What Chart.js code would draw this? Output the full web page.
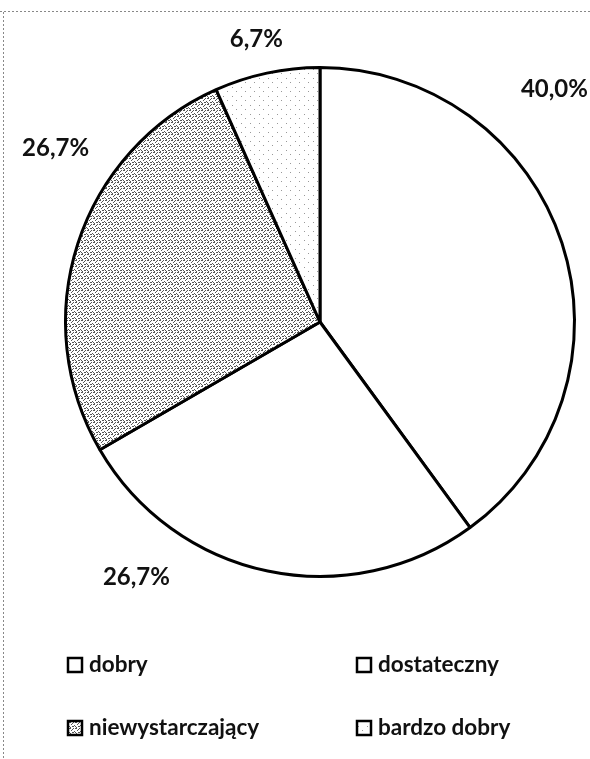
<!DOCTYPE html>
<html>
<head>
<meta charset="utf-8">
<script src="https://cdn.jsdelivr.net/npm/chart.js@4.4.0/dist/chart.umd.min.js"></script>
<style>
  body { margin: 0; background: #fff; }
  canvas { display: block; }
</style>
</head>
<body>
<canvas id="chart" width="590" height="759"></canvas>
<script>
// categories and their share (%)
var labels = ['dobry', 'dostateczny', 'niewystarczający', 'bardzo dobry'];
var values = [40.0, 26.7, 26.7, 6.7];

var canvas = document.getElementById('chart');
var ctx = canvas.getContext('2d');

// small dotted tiles, to look like the printed fills
function dotPattern(size, dots, dotColor) {
    var c = document.createElement('canvas');
    c.width = size; c.height = size;
    var g = c.getContext('2d');
    g.fillStyle = '#fff';
    g.fillRect(0, 0, size, size);
    g.fillStyle = dotColor;
    dots.forEach(function (p) { g.fillRect(p[0], p[1], 1, 1); });
    return ctx.createPattern(c, 'repeat');
}

var greyFill = dotPattern(6, [[0,0],[1,0],[3,0],[4,1],[1,2],[3,2],[4,2],[0,3],[5,4],[2,5]], '#555');
var lightFill = dotPattern(9, [[2,1],[7,6]], '#999');
var colors = ['#ffffff', '#ffffff', greyFill, lightFill];

// where the percent labels sit: angle from top (clockwise) and distance in radii
var labelPlace = [[45.2, 1.298], [215.7, 1.236], [303.3, 1.243], [347.3, 1.138]];

var pctLabels = {
    id: 'pctLabels',
    afterDatasetsDraw: function (chart) {
        var c = chart.ctx;
        var meta = chart.getDatasetMeta(0);
        c.save();
        c.font = 'bold 24px Lato';
        c.fillStyle = '#111';
        c.textAlign = 'center';
        c.textBaseline = 'middle';
        meta.data.forEach(function (arc, i) {
            var p = arc.getProps(['x', 'y', 'outerRadius']);
            var a = labelPlace[i][0] * Math.PI / 180;
            var r = p.outerRadius * labelPlace[i][1];
            var txt = chart.data.datasets[0].data[i].toFixed(1).replace('.', ',') + '%';
            c.fillText(txt, p.x + r * Math.sin(a), p.y - r * Math.cos(a));
        });
        c.restore();
    }
};

// two-column legend under the pie
var gridLegend = {
    id: 'gridLegend',
    afterDraw: function (chart) {
        var c = chart.ctx;
        var ds = chart.data.datasets[0];
        var cols = [68, 357], rows = [665, 728];
        c.save();
        c.font = 'bold 22.5px Lato';
        c.textBaseline = 'middle';
        chart.data.labels.forEach(function (lab, i) {
            var x = cols[i % 2], y = rows[Math.floor(i / 2)];
            c.fillStyle = ds.backgroundColor[i];
            c.fillRect(x, y - 7, 14, 14);
            c.lineWidth = 2.5;
            c.strokeStyle = '#000';
            c.strokeRect(x, y - 7, 14, 14);
            c.fillStyle = '#111';
            c.fillText(lab, x + 21, y);
        });
        c.restore();
    }
};

// faint dotted frame edge from the scan
var frame = {
    id: 'frame',
    beforeDraw: function (chart) {
        var c = chart.ctx;
        c.save();
        c.strokeStyle = '#888';
        c.lineWidth = 1;
        c.setLineDash([2, 2]);
        c.beginPath();
        c.moveTo(0, 11.5); c.lineTo(590, 11.5);
        c.moveTo(3.5, 12); c.lineTo(3.5, 759);
        c.stroke();
        c.restore();
    }
};

new Chart(canvas, {
    type: 'pie',
    data: {
        labels: labels,
        datasets: [{
            data: values,
            backgroundColor: colors,
            borderColor: '#000',
            borderWidth: 3
        }]
    },
    options: {
        responsive: false,
        animation: false,
        layout: { padding: { left: 64, right: 14, top: 66, bottom: 181 } },
        plugins: {
            legend: { display: false },
            tooltip: { enabled: false }
        }
    },
    plugins: [frame, pctLabels, gridLegend]
});
</script>
</body>
</html>
